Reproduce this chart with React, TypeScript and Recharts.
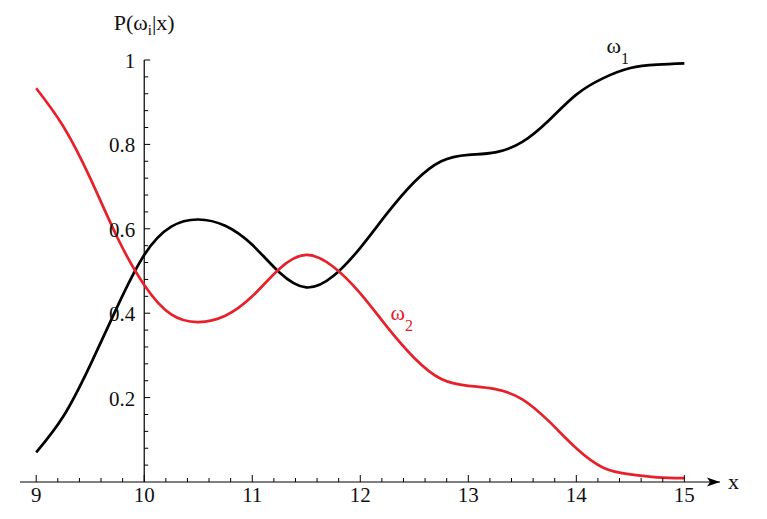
import { LineChart, Line, XAxis, YAxis, ReferenceLine, ReferenceDot } from 'recharts'

// x positions and posterior values
const xs = [9, 9.25, 9.5, 9.75, 10, 10.25, 10.5, 10.75, 11, 11.25, 11.5, 11.75, 12, 12.25, 12.5, 12.75, 13, 13.25, 13.5, 13.75, 14, 14.25, 14.5, 14.75, 15]
const omega1 = [0.07, 0.155, 0.277, 0.415, 0.538, 0.605, 0.622, 0.607, 0.562, 0.497, 0.461, 0.488, 0.555, 0.637, 0.711, 0.76, 0.775, 0.781, 0.806, 0.858, 0.918, 0.957, 0.981, 0.989, 0.992]
const omega2 = [0.933, 0.843, 0.72, 0.58, 0.467, 0.397, 0.379, 0.394, 0.44, 0.505, 0.538, 0.51, 0.447, 0.367, 0.294, 0.244, 0.228, 0.22, 0.196, 0.143, 0.08, 0.034, 0.018, 0.011, 0.009]

const xMajor = [9, 10, 11, 12, 13, 14, 15]
const yMajor = [0.2, 0.4, 0.6, 0.8, 1]
const yLabels = ['0.2', '0.4', '0.6', '0.8', '1']

const X_MIN = 8.85
const X_MAX = 15.33
const Y_AXIS_AT = 10

const xTicks = Array.from({ length: 31 }, (_, i) => Math.round((9 + i * 0.2) * 10) / 10)
const yMinor = Array.from({ length: 25 }, (_, i) => Math.round(i * 4) / 100).filter(
  (v) => v > 0 && !yMajor.some((m) => Math.abs(m - v) < 1e-6)
)

const data = xs.map((x, i) => ({ x, w1: omega1[i], w2: omega2[i] }))

const serif = { fontFamily: "'Liberation Serif', 'Times New Roman', Times, serif" }
const RED = '#e8202a'

function XTick({ x, y, payload }: any) {
  const major = xMajor.includes(payload.value)
  return (
    <g>
      <line x1={x} x2={x} y1={y} y2={y - (major ? 7 : 4)} stroke="#000" strokeWidth={1} />
      {major && (
        <text x={x} y={y + 20} textAnchor="middle" style={serif} fontSize={21} fill="#111">
          {payload.value}
        </text>
      )}
    </g>
  )
}

const yTickShape = (label: string | null) => (props: any) => {
  const { cx, cy } = props
  return (
    <g>
      <line x1={cx} x2={cx + (label ? 6 : 4)} y1={cy} y2={cy} stroke="#000" strokeWidth={1} />
      {label && (
        <text x={cx - 9} y={cy + 8} textAnchor="end" style={serif} fontSize={21} fill="#111">
          {label}
        </text>
      )}
    </g>
  )
}

const arrowShape = (props: any) => {
  const { cx, cy } = props
  return (
    <g>
      <polygon points={`${cx},${cy} ${cx - 13},${cy - 4.5} ${cx - 10},${cy} ${cx - 13},${cy + 4.5}`} fill="#000" />
      <text x={cx + 8} y={cy + 7} style={serif} fontSize={22} fill="#111">x</text>
    </g>
  )
}

const yTitleShape = (props: any) => {
  const { cx, cy } = props
  return (
    <text x={cx} y={cy - 30} textAnchor="middle" style={serif} fontSize={22} fill="#111">
      P(ω<tspan fontSize={15} dy={5}>i</tspan>
      <tspan dy={-5}>|x)</tspan>
    </text>
  )
}

const seriesLabel = (name: string, sub: string, color: string) => (props: any) => {
  const { cx, cy } = props
  return (
    <text x={cx} y={cy} style={serif} fontSize={22} fill={color}>
      {name}
      <tspan fontSize={16} dy={11}>{sub}</tspan>
    </text>
  )
}

export default function App() {
  return (
    <div style={{ position: 'absolute', left: 0, top: 0, background: '#fff' }}>
      <LineChart width={767} height={519} data={data} margin={{ top: 60, right: 47, bottom: 7, left: 20 }}>
        <XAxis
          dataKey="x"
          type="number"
          domain={[X_MIN, X_MAX]}
          allowDataOverflow
          ticks={xTicks}
          interval={0}
          tickSize={0}
          tickMargin={0}
          tickLine={false}
          tick={<XTick />}
          height={30}
          axisLine={{ stroke: '#000', strokeWidth: 1.2 }}
        />
        <YAxis type="number" domain={[0, 1]} hide />
        <ReferenceLine
          segment={[{ x: Y_AXIS_AT, y: 0 }, { x: Y_AXIS_AT, y: 1 }]}
          stroke="#000"
          strokeWidth={1.2}
        />
        {yMajor.map((v, i) => (
          <ReferenceDot key={'ym' + v} x={Y_AXIS_AT} y={v} ifOverflow="visible" shape={yTickShape(yLabels[i])} />
        ))}
        {yMinor.map((v) => (
          <ReferenceDot key={'yn' + v} x={Y_AXIS_AT} y={v} ifOverflow="visible" shape={yTickShape(null)} />
        ))}
        <ReferenceDot x={X_MAX} y={0} ifOverflow="visible" shape={arrowShape} />
        <ReferenceDot x={Y_AXIS_AT} y={1} ifOverflow="visible" shape={yTitleShape} />
        <Line type="natural" dataKey="w1" stroke="#000" strokeWidth={2.7} dot={false} isAnimationActive={false} />
        <Line type="natural" dataKey="w2" stroke={RED} strokeWidth={2.7} dot={false} isAnimationActive={false} />
        <ReferenceDot x={14.28} y={1.017} ifOverflow="visible" shape={seriesLabel('ω', '1', '#111')} />
        <ReferenceDot x={12.28} y={0.383} ifOverflow="visible" shape={seriesLabel('ω', '2', RED)} />
      </LineChart>
    </div>
  )
}
